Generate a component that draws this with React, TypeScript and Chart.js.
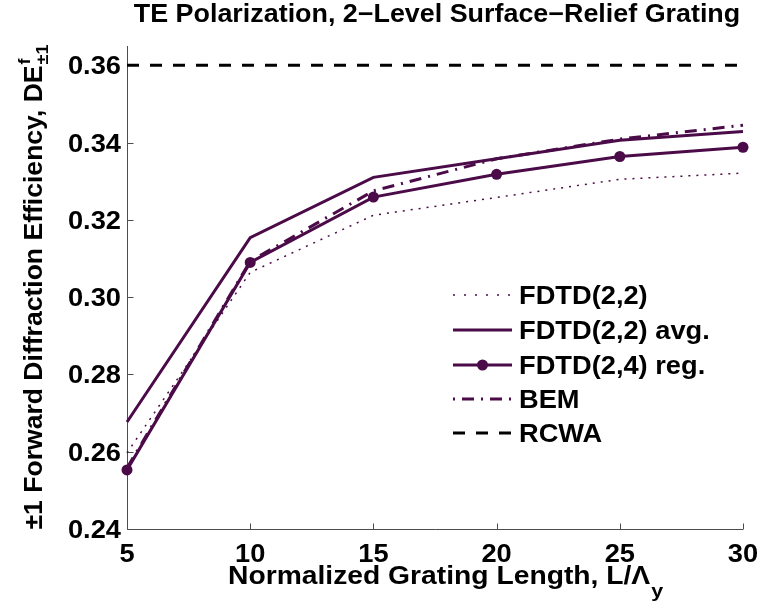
import React, { useEffect, useRef } from "react";
import { Chart, registerables } from "chart.js";

Chart.register(...registerables);

// ---- data ----
const lengths = [5, 10, 15, 20, 25, 30];
const fdtd22 = [0.2597, 0.3064, 0.3212, 0.3258, 0.3305, 0.3321];
const fdtd22avg = [0.2677, 0.3154, 0.331, 0.3358, 0.3406, 0.3429];
const fdtd24reg = [0.2553, 0.309, 0.3259, 0.3318, 0.3364, 0.3388];
const bem = [0.2558, 0.3093, 0.3275, 0.3358, 0.3409, 0.3445];
const rcwa = [0.36, 0.36, 0.36, 0.36, 0.36, 0.36];
const xTicks = [5, 10, 15, 20, 25, 30];
const yTicks = [0.24, 0.26, 0.28, 0.3, 0.32, 0.34, 0.36];
const legendLabels = ["FDTD(2,2)", "FDTD(2,2) avg.", "FDTD(2,4) reg.", "BEM", "RCWA"];

const PURPLE = "#4b0b48";
const FONT = '"Liberation Sans", Arial, Helvetica, sans-serif';
const STRETCH = 1.09;

function txt(ctx: CanvasRenderingContext2D, s: string, x: number, y: number, size: number, align: "left" | "center" | "right", baseline: CanvasTextBaseline = "alphabetic", stretch = STRETCH) {
  ctx.font = `bold ${size}px ${FONT}`;
  const w = ctx.measureText(s).width * stretch;
  let left = x;
  if (align === "center") left = x - w / 2;
  else if (align === "right") left = x - w;
  ctx.save();
  ctx.translate(left, y);
  ctx.scale(stretch, 1);
  ctx.textAlign = "left";
  ctx.textBaseline = baseline;
  ctx.fillText(s, 0, 0);
  ctx.restore();
  return w;
}

function width(ctx: CanvasRenderingContext2D, s: string, size: number, stretch = STRETCH) {
  ctx.font = `bold ${size}px ${FONT}`;
  return ctx.measureText(s).width * stretch;
}

const overlay = {
  id: "overlay",
  beforeDatasetsDraw(chart: any) {
    const { ctx, chartArea: a, scales } = chart;
    const x = scales.x;
    const y = scales.y;
    ctx.save();
    ctx.strokeStyle = "#4d4d4d";
    ctx.lineWidth = 1;
    ctx.setLineDash([]);
    ctx.beginPath();
    const L = Math.round(a.left) + 0.5;
    const B = Math.round(a.bottom) + 0.5;
    ctx.moveTo(L, a.top);
    ctx.lineTo(L, B);
    ctx.lineTo(a.right, B);
    xTicks.forEach((v) => {
      const px = Math.round(x.getPixelForValue(v)) + 0.5;
      ctx.moveTo(px, B);
      ctx.lineTo(px, B - 6);
    });
    yTicks.forEach((v) => {
      const py = Math.round(y.getPixelForValue(v)) + 0.5;
      ctx.moveTo(L, py);
      ctx.lineTo(L + 6, py);
    });
    ctx.stroke();
    ctx.restore();
  },
  afterDraw(chart: any) {
    const { ctx, chartArea: a, scales } = chart;
    const x = scales.x;
    const y = scales.y;
    const cx = (a.left + a.right) / 2;
    const cy = (a.top + a.bottom) / 2;
    ctx.save();
    ctx.fillStyle = "#000";

    // tick labels
    xTicks.forEach((v) => txt(ctx, String(v), x.getPixelForValue(v), a.bottom + 33, 25, "center"));
    yTicks.forEach((v) => txt(ctx, v.toFixed(2), a.left - 6, y.getPixelForValue(v) + 9, 25, "right"));

    // title
    txt(ctx, "TE Polarization, 2\u2212Level Surface\u2212Relief Grating", cx + 2, 22, 25, "center", "alphabetic", 1.075);

    // x label
    const XS = 1.13;
    const xMain = "Normalized Grating Length, L/\u039B";
    const wMain = width(ctx, xMain, 25, XS);
    const xStart = 228;
    txt(ctx, xMain, xStart, 584, 25, "left", "alphabetic", XS);
    txt(ctx, "y", xStart + wMain + 1, 597, 19, "left", "alphabetic", XS);

    // y label
    const YS = 1.062;
    const yMain = "\u00B11 Forward Diffraction Efficiency, DE";
    const wy = width(ctx, yMain, 25, YS);
    const wys = width(ctx, "\u00B11", 17, YS);
    ctx.save();
    ctx.translate(42, cy + (wy + wys) / 2);
    ctx.rotate(-Math.PI / 2);
    txt(ctx, yMain, 0, 0, 25, "left", "alphabetic", YS);
    txt(ctx, "f", wy + 1, -12, 17, "left", "alphabetic", YS);
    txt(ctx, "\u00B11", wy + 1, 6, 17, "left", "alphabetic", YS);
    ctx.restore();

    // legend
    const rows = [295, 330, 365, 399, 433];
    const x0 = 453;
    const x1 = 512;
    const styles = [
      { color: PURPLE, width: 1.5, dash: [2, 9] },
      { color: PURPLE, width: 3, dash: [] },
      { color: PURPLE, width: 3, dash: [] },
      { color: PURPLE, width: 3, dash: [2, 7, 12, 7] },
      { color: "#000", width: 3, dash: [12, 11] },
    ];
    styles.forEach((s, i) => {
      ctx.strokeStyle = s.color;
      ctx.lineWidth = s.width;
      ctx.setLineDash(s.dash);
      ctx.beginPath();
      ctx.moveTo(x0, rows[i]);
      ctx.lineTo(x1, rows[i]);
      ctx.stroke();
    });
    ctx.setLineDash([]);
    ctx.fillStyle = PURPLE;
    ctx.beginPath();
    ctx.arc((x0 + x1) / 2, rows[2], 5.5, 0, Math.PI * 2);
    ctx.fill();
    ctx.fillStyle = "#000";
    legendLabels.forEach((t, i) => txt(ctx, t, 519, rows[i] + 9, 25, "left"));
    ctx.restore();
  },
};

export default function App() {
  const ref = useRef<HTMLCanvasElement | null>(null);
  useEffect(() => {
    document.body.style.margin = "0";
    if (!ref.current) return;
    const mk = (vals: number[]) => lengths.map((l, i) => ({ x: l, y: vals[i] }));
    const chart = new Chart(ref.current, {
      type: "line",
      data: {
        datasets: [
          { label: legendLabels[0], data: mk(fdtd22), borderColor: PURPLE, borderWidth: 1.5, borderDash: [2, 6], pointRadius: 0, tension: 0, clip: false as any },
          { label: legendLabels[1], data: mk(fdtd22avg), borderColor: PURPLE, borderWidth: 3, pointRadius: 0, tension: 0, clip: false as any },
          { label: legendLabels[2], data: mk(fdtd24reg), borderColor: PURPLE, borderWidth: 3, pointRadius: 5.5, pointBackgroundColor: PURPLE, pointBorderWidth: 0, tension: 0, clip: false as any },
          { label: legendLabels[3], data: mk(bem), borderColor: PURPLE, borderWidth: 3, borderDash: [12, 7, 2, 7], pointRadius: 0, tension: 0, clip: false as any },
          { label: legendLabels[4], data: mk(rcwa), borderColor: "#000", borderWidth: 3, borderDash: [12, 11], pointRadius: 0, tension: 0, clip: false as any },
        ],
      },
      options: {
        responsive: false,
        animation: false,
        layout: { padding: { top: 46, right: 18, left: 0, bottom: 0 } },
        plugins: { legend: { display: false }, title: { display: false }, tooltip: { enabled: false } },
        scales: {
          x: {
            type: "linear",
            min: 5,
            max: 30,
            grid: { display: false, drawTicks: false },
            border: { display: false },
            afterBuildTicks: (s: any) => {
              s.ticks = xTicks.map((v) => ({ value: v }));
            },
            ticks: { display: false },
            afterFit: (s: any) => {
              s.height = 81;
              s.paddingLeft = 0;
              s.paddingRight = 0;
            },
          },
          y: {
            type: "linear",
            min: 0.24,
            max: 0.365,
            grid: { display: false, drawTicks: false },
            border: { display: false },
            afterBuildTicks: (s: any) => {
              s.ticks = yTicks.map((v) => ({ value: v }));
            },
            ticks: { display: false },
            afterFit: (s: any) => {
              s.width = 127;
              s.paddingTop = 0;
              s.paddingBottom = 0;
            },
          },
        },
      },
      plugins: [overlay],
    });
    return () => chart.destroy();
  }, []);
  return <canvas ref={ref} width={761} height={610} style={{ display: "block", width: 761, height: 610 }} />;
}
